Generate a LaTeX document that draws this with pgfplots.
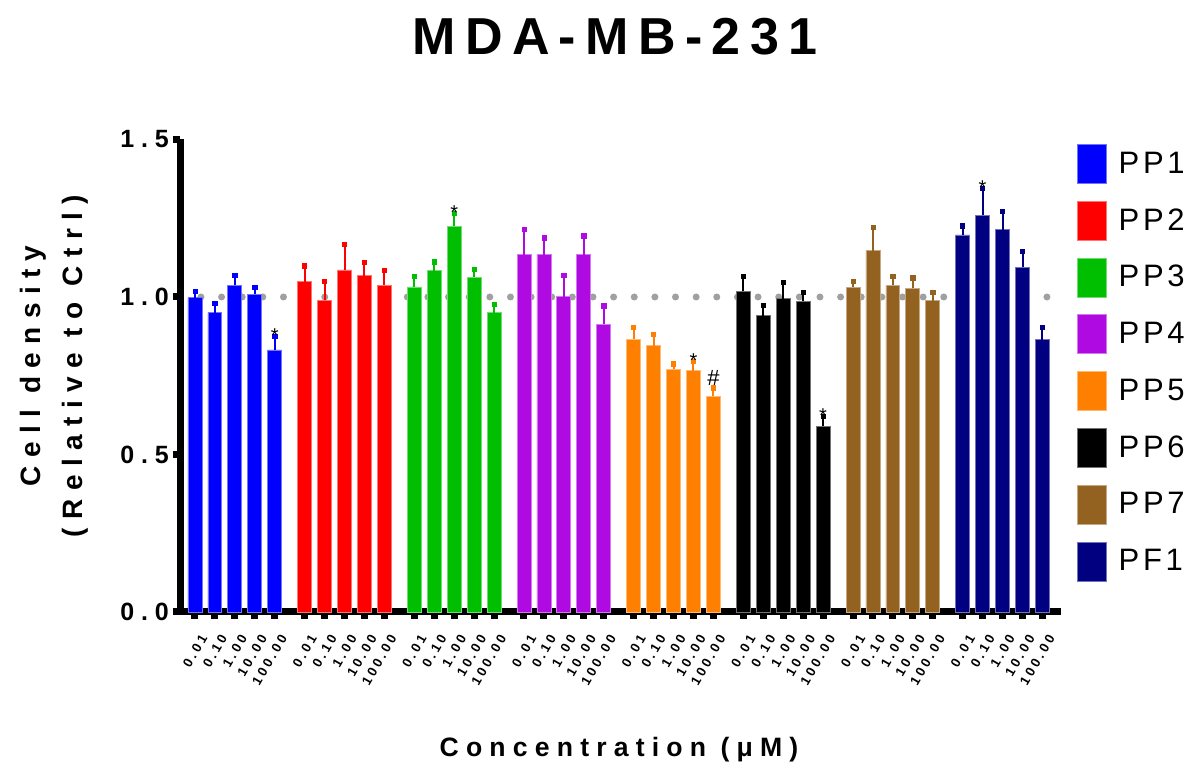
\documentclass[border=0pt]{standalone}
\usepackage{pgfplots}
\pgfplotsset{compat=1.18}
\usepackage{fontspec}
\setmainfont{Liberation Sans}
\newfontfamily\spA[LetterSpace=30]{Liberation Sans}
\newfontfamily\spC[LetterSpace=27]{Liberation Sans}
\newfontfamily\spT[LetterSpace=24]{Liberation Sans}
\newfontfamily\spB[LetterSpace=18]{Liberation Sans}
\newfontfamily\spL[LetterSpace=12]{Liberation Sans}
\definecolor{cPPa}{RGB}{0,0,255}
\definecolor{cPPb}{RGB}{255,0,0}
\definecolor{cPPc}{RGB}{0,190,0}
\definecolor{cPPd}{RGB}{175,10,225}
\definecolor{cPPe}{RGB}{255,128,0}
\definecolor{cPPf}{RGB}{0,0,0}
\definecolor{cPPg}{RGB}{148,98,32}
\definecolor{cPFa}{RGB}{0,0,128}
\definecolor{dotgray}{RGB}{160,160,160}
\pgfplotsset{
  grp/.style={ybar, bar width=0.7, bar shift=0pt, fill=#1, draw=#1!55!white, line width=0.4pt,
    error bars/.cd, y dir=plus, y explicit,
    error bar style={#1, line width=1pt, solid},
    error mark=square*,
    error mark options={#1, mark size=1.05pt, line width=0.3pt, solid}},
}
\begin{document}
\begin{tikzpicture}
\useasboundingbox (0,0) rectangle (595.5pt,386pt);
\begin{axis}[
  at={(90pt,80pt)}, anchor=south west,
  scale only axis, width=440.5pt, height=236.25pt,
  xmin=-0.75, xmax=43.43, ymin=0, ymax=1.5,
  axis x line=bottom, axis y line=left,
  axis line style={-, line width=3.5pt, black},
  tick align=outside, major tick length=3.6pt,
  tick style={line width=3.5pt, black},
  ytick={0,0.5,1,1.5}, yticklabels={0.0,0.5,1.0,1.5},
  yticklabel style={font=\fontsize{12.5}{12.5}\selectfont\spC\bfseries, xshift=1.5pt},
  xtick={0,1,2,3,4,5.5,6.5,7.5,8.5,9.5,11,12,13,14,15,16.5,17.5,18.5,19.5,20.5,22,23,24,25,26,27.5,28.5,29.5,30.5,31.5,33,34,35,36,37,38.5,39.5,40.5,41.5,42.5},
  xticklabels={0.01,0.10,1.00,10.00,100.00,0.01,0.10,1.00,10.00,100.00,0.01,0.10,1.00,10.00,100.00,0.01,0.10,1.00,10.00,100.00,0.01,0.10,1.00,10.00,100.00,0.01,0.10,1.00,10.00,100.00,0.01,0.10,1.00,10.00,100.00,0.01,0.10,1.00,10.00,100.00},
  xticklabel style={font=\fontsize{6.6}{6.6}\selectfont\spT\bfseries, xshift=4.5pt, yshift=-8pt, rotate=60, anchor=east, inner sep=0pt},
  /pgf/number format/assume math mode=true,
  legend image code/.code={\fill[#1] (0pt,-9.75pt) rectangle (14.5pt,9.75pt);},
  legend style={at={(1.018,0.9905)}, anchor=north west, draw=none, fill=none,
    inner sep=0pt, outer sep=0pt, row sep=8.5pt, column sep=6pt,
    font=\fontsize{15.5}{15.5}\selectfont\spL, nodes={inner sep=0pt, anchor=west}},
  legend cell align=left,
  clip=false,
]
\addplot[forget plot, draw=dotgray, line width=3.5pt, line cap=round, dash pattern=on 0pt off 10.317pt, sharp plot, mark=none] coordinates {(0.30,1) (42.73,1)};
\addplot[grp=cPPa] coordinates {
 (0,0.998) +- (0,0.021) (1,0.950) +- (0,0.030) (2,1.038) +- (0,0.030) (3,1.009) +- (0,0.021) (4,0.832) +- (0,0.044)};
\addlegendentry{PP1}
\addplot[grp=cPPb] coordinates {
 (5.5,1.049) +- (0,0.050) (6.5,0.990) +- (0,0.061) (7.5,1.086) +- (0,0.081) (8.5,1.068) +- (0,0.041) (9.5,1.038) +- (0,0.046)};
\addlegendentry{PP2}
\addplot[grp=cPPc] coordinates {
 (11,1.032) +- (0,0.033) (12,1.083) +- (0,0.029) (13,1.225) +- (0,0.041) (14,1.063) +- (0,0.026) (15,0.950) +- (0,0.027)};
\addlegendentry{PP3}
\addplot[grp=cPPd] coordinates {
 (16.5,1.134) +- (0,0.081) (17.5,1.134) +- (0,0.054) (18.5,1.001) +- (0,0.068) (19.5,1.134) +- (0,0.060) (20.5,0.913) +- (0,0.059)};
\addlegendentry{PP4}
\addplot[grp=cPPe] coordinates {
 (22,0.866) +- (0,0.037) (23,0.846) +- (0,0.035) (24,0.771) +- (0,0.017) (25,0.766) +- (0,0.029) (26,0.685) +- (0,0.027)};
\addlegendentry{PP5}
\addplot[grp=cPPf] coordinates {
 (27.5,1.019) +- (0,0.046) (28.5,0.940) +- (0,0.033) (29.5,0.995) +- (0,0.051) (30.5,0.987) +- (0,0.028) (31.5,0.590) +- (0,0.030)};
\addlegendentry{PP6}
\addplot[grp=cPPg] coordinates {
 (33,1.031) +- (0,0.018) (34,1.147) +- (0,0.073) (35,1.037) +- (0,0.029) (36,1.027) +- (0,0.034) (37,0.988) +- (0,0.027)};
\addlegendentry{PP7}
\addplot[grp=cPFa] coordinates {
 (38.5,1.197) +- (0,0.029) (39.5,1.259) +- (0,0.086) (40.5,1.214) +- (0,0.057) (41.5,1.095) +- (0,0.049) (42.5,0.865) +- (0,0.038)};
\addlegendentry{PF1}
% significance marks
\node[anchor=base, inner sep=0pt, font=\fontsize{10}{10}\selectfont] at (axis cs:4,0.876) [yshift=-3pt] {*};
\node[anchor=base, inner sep=0pt, font=\fontsize{10}{10}\selectfont] at (axis cs:13,1.266) [yshift=-3pt] {*};
\node[anchor=base, inner sep=0pt, font=\fontsize{10}{10}\selectfont] at (axis cs:25,0.795) [yshift=-3pt] {*};
\node[anchor=base, inner sep=0pt, font=\fontsize{11}{11}\selectfont] at (axis cs:26,0.712) [yshift=1.3pt] {\#};
\node[anchor=base, inner sep=0pt, font=\fontsize{10}{10}\selectfont] at (axis cs:31.5,0.620) [yshift=-3pt] {*};
\node[anchor=base, inner sep=0pt, font=\fontsize{10}{10}\selectfont] at (axis cs:39.5,1.345) [yshift=-3pt] {*};
\end{axis}
\node[anchor=base, font=\fontsize{26}{26}\selectfont\spB\bfseries] at (307.5pt,358.5pt) {MDA-MB-231};
\node[rotate=90, anchor=center, font=\fontsize{14}{14}\selectfont\spA\bfseries] at (16.5pt,203pt) {Cell density};
\node[rotate=90, anchor=center, font=\fontsize{14}{14}\selectfont\spA\bfseries] at (37.5pt,203pt) {(Relative to Ctrl)};
\node[anchor=center, font=\fontsize{13.3}{13.3}\selectfont\spC\bfseries] at (309.5pt,11pt) {Concentration (μM)};
\end{tikzpicture}
\end{document}
